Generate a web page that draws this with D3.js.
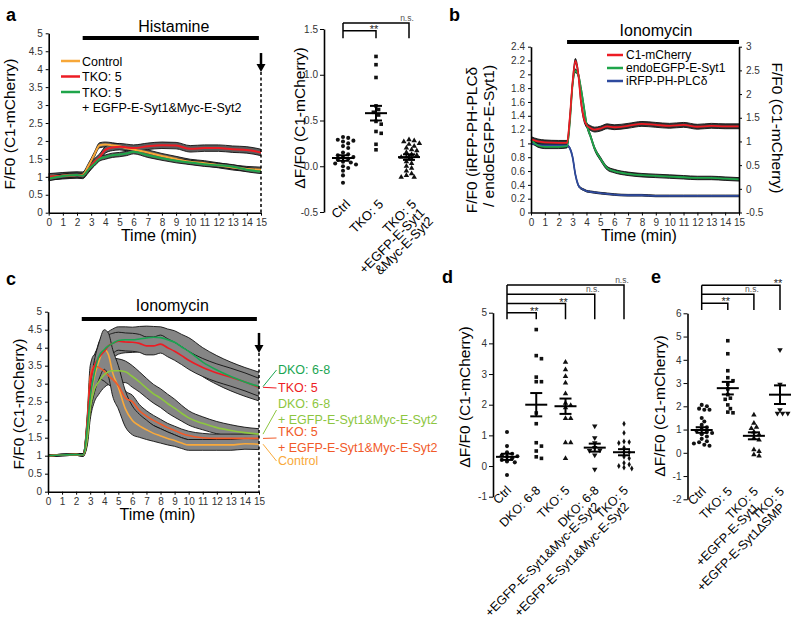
<!DOCTYPE html>
<html>
<head>
<meta charset="utf-8">
<script src="https://cdn.jsdelivr.net/npm/d3@7"></script>
<style>
body { margin: 0; background: #fff; }
svg text { font-family: "Liberation Sans", Arial, sans-serif; }
</style>
</head>
<body>
<div id="fig"></div>
<script>
var minutes = d3.range(0, 16);

// panel a, histamine time course
var timeA = [0,1,2,2.4,2.8,3.2,3.6,4,4.5,5,5.5,6,7,8,9,10,11,12,13,14,15];
var ctrlLineA = [1.0,1.03,1.05,1.06,1.3,1.6,1.88,1.9,1.88,1.85,1.8,1.76,1.68,1.58,1.5,1.42,1.38,1.32,1.26,1.22,1.2];
var tkoLineA = [1.0,1.03,1.05,1.04,1.2,1.4,1.55,1.75,1.82,1.84,1.82,1.8,1.85,1.88,1.87,1.78,1.8,1.8,1.77,1.75,1.68];
var rescueLineA = [0.95,1.02,1.05,1.03,1.2,1.35,1.5,1.55,1.6,1.62,1.65,1.7,1.6,1.52,1.45,1.4,1.35,1.32,1.28,1.2,1.15];
var semLineA = [0.07, 0.09, 0.06];
var seriesNamesA = ["Control", "TKO: 5", "TKO: 5"];

// panel a, scatter
var ctrlDotsA = [0.32,0.31,0.29,0.28,0.27,0.25,0.22,0.2,0.15,0.13,0.12,0.1,0.1,0.08,0.07,0.05,0.04,0.03,0.02,0.0,-0.02,-0.05,-0.1,-0.18];
var tkoDotsA = [1.2,1.11,0.97,0.66,0.62,0.59,0.56,0.49,0.46,0.38,0.36,0.24,0.18];
var rescueDotsA = [0.29,0.28,0.27,0.25,0.24,0.22,0.2,0.18,0.17,0.15,0.13,0.12,0.1,0.1,0.08,0.05,0.03,0.0,-0.02,-0.05,-0.08,-0.1,-0.12,-0.12];
var meanA = [0.09, 0.58, 0.1];
var semA = [0.03, 0.08, 0.03];

// panel b, ionomycin
var timeB = [0,0.5,1,2,2.6,2.8,3,3.2,3.4,3.6,3.8,4,4.3,4.6,5,5.5,6,7,8,9,10,11,12,13,14,15];
var c1LineB = [1.05,1.0,0.98,0.97,0.97,1.5,2.25,2.7,2.45,1.85,1.5,1.35,1.28,1.25,1.27,1.32,1.3,1.33,1.37,1.35,1.33,1.35,1.31,1.33,1.32,1.32];
var syt1LineB = [1.05,0.97,0.95,0.95,0.96,1.3,1.85,2.05,2.0,1.8,1.55,1.29,1.1,0.92,0.78,0.64,0.6,0.56,0.54,0.53,0.52,0.51,0.5,0.5,0.49,0.48];
var plcLineB = [1.0,0.98,0.97,0.97,0.97,0.93,0.8,0.55,0.4,0.35,0.33,0.31,0.3,0.29,0.28,0.27,0.26,0.25,0.25,0.24,0.24,0.24,0.24,0.24,0.24,0.24];
var semLineB = [0.035, 0.025, 0.012];
var seriesNamesB = ["C1-mCherry", "endoEGFP-E-Syt1", "iRFP-PH-PLC\u03b4"];

// panel c, ionomycin
var timeC = [0,1,2,2.5,2.8,3,3.3,3.6,4,4.3,4.6,5,5.5,6,6.5,7,7.5,8,8.5,9,9.5,10,11,12,13,14,15];
var dkoLineC = [1.0,1.02,1.03,1.02,1.8,2.6,3.3,3.75,3.95,4.05,4.12,4.2,4.22,4.22,4.24,4.27,4.29,4.28,4.22,4.15,4.02,3.9,3.6,3.38,3.2,3.05,2.92];
var tkoLineC = [1.0,1.02,1.03,1.02,1.9,3.0,3.5,3.72,3.9,4.05,4.12,4.18,4.16,4.15,4.12,4.05,4.05,4.1,4.0,3.9,3.78,3.65,3.45,3.3,3.18,3.05,2.9];
var dkoResLineC = [1.0,1.02,1.03,1.02,1.5,2.3,2.85,3.05,3.25,3.33,3.36,3.36,3.33,3.2,3.05,2.88,2.72,2.6,2.45,2.32,2.18,2.05,1.9,1.78,1.7,1.64,1.6];
var tkoResLineC = [1.0,1.02,1.03,1.02,2.0,3.2,3.5,3.45,3.35,3.22,3.12,2.95,2.6,2.5,2.25,2.1,1.98,1.88,1.78,1.7,1.62,1.56,1.5,1.48,1.48,1.48,1.48];
var ctrlLineC = [1.0,1.02,1.03,1.02,1.6,2.5,3.2,3.6,3.95,3.8,3.3,2.9,2.3,1.98,1.83,1.72,1.62,1.55,1.48,1.42,1.35,1.3,1.3,1.3,1.3,1.33,1.32];
var dkoSemC = [0.02,0.02,0.02,0.03,0.2,0.3,0.35,0.38,0.4,0.4,0.4,0.38,0.36,0.35,0.35,0.33,0.3,0.3,0.3,0.32,0.35,0.38,0.4,0.4,0.4,0.4,0.4];
var tkoSemC = [0.02,0.02,0.02,0.03,0.2,0.25,0.3,0.3,0.3,0.3,0.28,0.25,0.25,0.25,0.25,0.25,0.25,0.25,0.25,0.25,0.25,0.25,0.25,0.25,0.25,0.25,0.25];
var dkoResSemC = [0.02,0.02,0.02,0.03,0.2,0.3,0.35,0.35,0.35,0.35,0.35,0.33,0.3,0.3,0.28,0.27,0.26,0.26,0.26,0.25,0.22,0.2,0.18,0.17,0.16,0.15,0.15];
var tkoResSemC = [0.02,0.02,0.02,0.03,0.2,0.3,0.3,0.3,0.28,0.25,0.22,0.2,0.2,0.18,0.17,0.15,0.14,0.13,0.12,0.12,0.12,0.12,0.12,0.12,0.12,0.12,0.12];
var ctrlSemC = [0.02,0.02,0.02,0.03,0.2,0.35,0.45,0.5,0.55,0.6,0.65,0.6,0.5,0.4,0.32,0.27,0.22,0.2,0.18,0.16,0.15,0.15,0.15,0.15,0.15,0.15,0.15];

// panel d, scatter
var ctrlDotsD = [1.11,0.65,0.45,0.4,0.35,0.32,0.3,0.25,0.2,0.15,0.12,-0.29];
var dkoDotsD = [4.45,3.6,3.5,2.9,2.75,2.75,1.73,1.38,0.76,0.65,0.49,0.3,0.25];
var tkoDotsD = [3.39,3.14,2.92,2.71,2.36,2.05,1.98,1.9,1.55,1.55,0.76,0.76,0.25];
var dkoResDotsD = [1.3,0.92,0.76,0.6,0.52,0.5,0.36,-0.11];
var tkoResDotsD = [1.38,1.08,0.8,0.78,0.75,0.6,0.45,0.45,0.3,0.25,0.1,0.05,0.0,-0.05,-0.08];
var meanD = [0.3, 2.0, 1.95, 0.6, 0.45];
var semD = [0.1, 0.38, 0.25, 0.13, 0.1];

// panel e, scatter
var ctrlDotsE = [2.06,2.0,1.9,1.85,1.85,1.5,1.35,1.2,1.1,1.0,0.95,0.9,0.85,0.8,0.7,0.6,0.5,0.45,0.4,0.35,0.3];
var tkoDotsE = [4.82,4.26,3.53,3.23,3.1,2.95,2.75,2.5,2.35,2.3,2.06,1.9,1.75,1.72];
var syt1DotsE = [1.63,1.27,1.1,1.05,0.9,0.78,0.63,0.55,0.13,0.06,-0.08,-0.13];
var smpDotsE = [4.43,2.95,1.85,1.7,1.7,1.7];
var meanE = [0.98, 2.78, 0.73, 2.5];
var semE = [0.12, 0.27, 0.15, 0.4];

var svg = d3.select("#fig").append("svg")
  .attr("width", 800)
  .attr("height", 623);
svg.append("rect").attr("width", 800).attr("height", 623).attr("fill", "#fff");

var fmtNum = d => d3.format("~g")(d).replace("\u2212", "-");

function letter(x, y, t) {
  svg.append("text").attr("x", x).attr("y", y)
    .attr("font-size", 18).attr("font-weight", "bold").text(t);
}

function styleAxis(g, size) {
  g.select(".domain").attr("stroke-width", 1.6);
  g.selectAll(".tick line").attr("stroke-width", 1);
  g.selectAll("text").attr("font-size", size).attr("fill", "#333").attr("font-family", null);
}

function yTitle(x, y, t, size, rot) {
  svg.append("text")
    .attr("transform", `translate(${x},${y}) rotate(${rot || -90})`)
    .attr("text-anchor", "middle")
    .attr("font-size", size)
    .text(t);
}

function timeAxes(x, y, yTicks) {
  var gy = svg.append("g")
    .attr("transform", `translate(${x.range()[0]},0)`)
    .call(d3.axisLeft(y).tickValues(yTicks).tickSize(3).tickSizeOuter(0).tickPadding(3).tickFormat(fmtNum));
  styleAxis(gy, 10);
  var gx = svg.append("g")
    .attr("transform", `translate(0,${y.range()[0]})`)
    .call(d3.axisBottom(x).tickValues(minutes).tickSize(3).tickSizeOuter(0).tickPadding(3));
  styleAxis(gx, 10);
  svg.append("text")
    .attr("x", (x.range()[0] + x.range()[1]) / 2 + 4)
    .attr("y", y.range()[0] + 28)
    .attr("text-anchor", "middle")
    .attr("font-size", 16)
    .text("Time (min)");
}

function drawBand(x, y, t, v, e, fill) {
  var pts = t.map((d, i) => ({t: d, lo: v[i] - (Array.isArray(e) ? e[i] : e), hi: v[i] + (Array.isArray(e) ? e[i] : e)}));
  svg.append("path").datum(pts)
    .attr("d", d3.area().x(d => x(d.t)).y0(d => y(d.lo)).y1(d => y(d.hi)).curve(d3.curveMonotoneX))
    .attr("fill", fill);
  ["lo", "hi"].forEach(k => {
    svg.append("path").datum(pts)
      .attr("d", d3.line().x(d => x(d.t)).y(d => y(d[k])).curve(d3.curveMonotoneX))
      .attr("fill", "none").attr("stroke", "#111").attr("stroke-width", 0.9);
  });
}

function drawLine(x, y, t, v, color, w) {
  svg.append("path").datum(t.map((d, i) => [d, v[i]]))
    .attr("d", d3.line().x(d => x(d[0])).y(d => y(d[1])).curve(d3.curveMonotoneX))
    .attr("fill", "none").attr("stroke", color).attr("stroke-width", w);
}

function stimBar(x, yPix, t0, t1, label, labelY) {
  svg.append("line").attr("x1", x(t0)).attr("x2", x(t1)).attr("y1", yPix).attr("y2", yPix)
    .attr("stroke", "#000").attr("stroke-width", 4);
  svg.append("text").attr("x", (x(t0) + x(t1)) / 2 + 3).attr("y", labelY)
    .attr("text-anchor", "middle").attr("font-size", 16).text(label);
}

function washArrow(x, y, top, tip) {
  var xp = x(15);
  svg.append("line").attr("x1", xp).attr("x2", xp).attr("y1", y(tip)).attr("y2", y.range()[0])
    .attr("stroke", "#000").attr("stroke-width", 1.5).attr("stroke-dasharray", "3,2.5");
  svg.append("line").attr("x1", xp).attr("x2", xp).attr("y1", y(top)).attr("y2", y(tip) - 6)
    .attr("stroke", "#000").attr("stroke-width", 2.5);
  svg.append("path")
    .attr("d", `M${xp - 4.5},${y(tip) - 8} L${xp + 4.5},${y(tip) - 8} L${xp},${y(tip)} Z`)
    .attr("fill", "#000");
}

// ---------- panel a, time course ----------
letter(6, 21, "a");
var xA = d3.scaleLinear().domain([0, 15]).range([48.7, 261]);
var yA = d3.scaleLinear().domain([0, 5]).range([212.7, 33.3]);
var colorsA = ["#f7a738", "#ed1c24", "#1fa54a"];
var linesA = [ctrlLineA, tkoLineA, rescueLineA];
linesA.forEach((v, i) => drawBand(xA, yA, timeA, v, semLineA[i], "#5c5c5c"));
linesA.forEach((v, i) => drawLine(xA, yA, timeA, v, colorsA[i], 2));
timeAxes(xA, yA, d3.range(0, 5.01, 0.5));
yTitle(15, 124, "F/F0 (C1-mCherry)", 15.5);
stimBar(xA, 38, 2.4, 14.85, "Histamine", 32);
washArrow(xA, yA, 4.45, 3.92);

var legA = svg.append("g");
[[seriesNamesA[0]], [seriesNamesA[1]], [seriesNamesA[2], "+ EGFP-E-Syt1&Myc-E-Syt2"]].forEach((lines, i) => {
  var yy = 61 + i * 15.5;
  legA.append("line").attr("x1", 61).attr("x2", 80).attr("y1", yy).attr("y2", yy)
    .attr("stroke", colorsA[i]).attr("stroke-width", 2.5);
  lines.forEach((t, j) => {
    legA.append("text").attr("x", 82).attr("y", yy + 4.5 + j * 15).attr("font-size", 12.5).text(t);
  });
});

// ---------- scatter helper ----------
var shapes = {
  circle: d3.symbol().type(d3.symbolCircle).size(13),
  square: d3.symbol().type(d3.symbolSquare).size(13),
  triangle: d3.symbol().type(d3.symbolTriangle).size(13),
  down: d3.symbol().type(d3.symbolTriangle).size(13),
  diamond: d3.symbol().type(d3.symbolDiamond).size(10)
};

function swarm(vals, y, cx, gap) {
  var placed = [];
  vals.slice().sort((a, b) => b - a).forEach(v => {
    var py = y(v);
    for (var k = 0; k < 30; k++) {
      var off = (k % 2 ? 1 : -1) * Math.ceil(k / 2) * 2.6;
      var ok = placed.every(p => Math.hypot(p.x - (cx + off), p.y - py) >= gap);
      if (ok) { placed.push({x: cx + off, y: py}); break; }
    }
  });
  return placed;
}

function scatterPanel(cfg) {
  var y = cfg.y;
  var x = d3.scalePoint().domain(d3.range(cfg.groups.length)).range(cfg.catRange);
  var gy = svg.append("g").attr("transform", `translate(${cfg.axisX},0)`)
    .call(d3.axisLeft(y).tickValues(cfg.ticks).tickSize(4).tickSizeOuter(0).tickPadding(2).tickFormat(d => cfg.fmt(d).replace("\u2212", "-")));
  styleAxis(gy, 10);

  cfg.groups.forEach((vals, i) => {
    var pts = swarm(vals, y, x(i), 4.3);
    svg.append("g").selectAll("path").data(pts).enter().append("path")
      .attr("d", shapes[cfg.shapes[i]])
      .attr("transform", d => `translate(${d.x},${d.y})` + (cfg.shapes[i] === "down" ? " rotate(180)" : ""))
      .attr("fill", "#111");
    var m = cfg.means[i], s = cfg.sems[i], cx = x(i);
    var g = svg.append("g").attr("stroke", "#000").attr("stroke-width", 2);
    g.append("line").attr("x1", cx - 11).attr("x2", cx + 11).attr("y1", y(m)).attr("y2", y(m));
    g.append("line").attr("x1", cx).attr("x2", cx).attr("y1", y(m + s)).attr("y2", y(m - s));
    [m + s, m - s].forEach(v => g.append("line").attr("x1", cx - 6).attr("x2", cx + 6).attr("y1", y(v)).attr("y2", y(v)));

    // rotated category label, following lines step down (and back) from the first
    var lab = svg.append("text")
      .attr("transform", `translate(${cx + cfg.labDx},${cfg.labY}) rotate(-45)`)
      .attr("text-anchor", "end")
      .attr("font-size", cfg.labSize);
    cfg.labels[i].forEach((t, j) => {
      lab.append("tspan").attr("x", j * cfg.lineShift).attr("y", j * cfg.lineGap).text(t);
    });
  });

  // significance brackets
  var x0 = x(0);
  var gb = svg.append("g").attr("stroke", "#000").attr("stroke-width", 1.5).attr("fill", "none");
  var topLevel = cfg.bracketBottom - cfg.firstGap - (cfg.brackets.length - 1) * cfg.step;
  gb.append("line").attr("x1", x0).attr("x2", x0).attr("y1", topLevel).attr("y2", cfg.bracketBottom);
  cfg.brackets.forEach((b, k) => {
    var lv = cfg.bracketBottom - cfg.firstGap - k * cfg.step;
    var xr = x(b.to);
    gb.append("path").attr("d", `M${x0},${lv} H${xr} V${cfg.bracketBottom}`);
    var ns = b.label === "n.s.";
    svg.append("text").attr("x", xr - 2).attr("y", ns ? lv - 2 : lv + 2)
      .attr("text-anchor", "middle")
      .attr("font-size", ns ? 8.5 : 11)
      .attr("fill", ns ? "#555" : "#222")
      .text(b.label);
  });

  yTitle(cfg.titleX, cfg.titleY, "\u0394F/F0 (C1-mCherry)", 15.5);
}

// ---------- panel a, scatter ----------
scatterPanel({
  y: d3.scaleLinear().domain([-0.5, 1.5]).range([212, 29]),
  axisX: 324,
  ticks: [-0.5, 0, 0.5, 1.0, 1.5],
  fmt: d3.format(".1f"),
  catRange: [343, 409],
  groups: [ctrlDotsA, tkoDotsA, rescueDotsA],
  shapes: ["circle", "square", "triangle"],
  means: meanA, sems: semA,
  labels: [["Ctrl"], ["TKO: 5"], ["TKO: 5", "+EGFP-E-Syt1", "&Myc-E-Syt2"]],
  labDx: 8, labY: 205, labSize: 13, lineGap: 12, lineShift: 0,
  brackets: [{to: 1, label: "**"}, {to: 2, label: "n.s."}],
  bracketBottom: 38.3, firstGap: 7.5, step: 7.7,
  titleX: 305, titleY: 118
});

// ---------- panel b ----------
letter(449, 21, "b");
var xB = d3.scaleLinear().domain([0, 15]).range([531, 739]);
var yBL = d3.scaleLinear().domain([0, 2.4]).range([212.5, 46.7]);
var yBR = d3.scaleLinear().domain([-0.5, 3]).range([212.5, 46.7]);
var colorsB = ["#ed1c24", "#1fa54a", "#2e4a9e"];
drawBand(xB, yBR, timeB, c1LineB, semLineB[0] * 1.46, "#333");
drawBand(xB, yBL, timeB, syt1LineB, semLineB[1], "#333");
drawBand(xB, yBL, timeB, plcLineB, semLineB[2], "#333");
drawLine(xB, yBL, timeB, plcLineB, colorsB[2], 1.8);
drawLine(xB, yBL, timeB, syt1LineB, colorsB[1], 1.8);
drawLine(xB, yBR, timeB, c1LineB, colorsB[0], 1.8);
timeAxes(xB, yBL, d3.range(0, 2.41, 0.2).map(d => +d.toFixed(1)));
var gR = svg.append("g").attr("transform", "translate(739,0)")
  .call(d3.axisRight(yBR).tickValues(d3.range(-0.5, 3.01, 0.5)).tickSize(3).tickSizeOuter(0).tickPadding(4).tickFormat(fmtNum));
styleAxis(gR, 10);
stimBar(xB, 42, 2.6, 15, "Ionomycin", 36);
yTitle(477, 140, "F/F0 (iRFP-PH-PLC\u03b4", 15.5);
yTitle(494, 136, "/ endoEGFP-E-Syt1)", 15.5);
yTitle(772, 128, "F/F0 (C1-mCherry)", 15.5, 90);
seriesNamesB.forEach((t, i) => {
  var yy = 55 + i * 13;
  svg.append("line").attr("x1", 607).attr("x2", 623).attr("y1", yy).attr("y2", yy)
    .attr("stroke", colorsB[i]).attr("stroke-width", 2.5);
  svg.append("text").attr("x", 626).attr("y", yy + 4).attr("font-size", 12).text(t);
});

// ---------- panel c ----------
letter(6, 285, "c");
var xC = d3.scaleLinear().domain([0, 15]).range([48, 259]);
var yC = d3.scaleLinear().domain([0, 5]).range([491.7, 311.7]);
var linesC = [
  {v: dkoLineC, e: dkoSemC, c: "#1aa552", lab: ["DKO: 6-8"], ly: 374},
  {v: tkoLineC, e: tkoSemC, c: "#ed1c24", lab: ["TKO: 5"], ly: 392},
  {v: dkoResLineC, e: dkoResSemC, c: "#8dc63f", lab: ["DKO: 6-8", "+ EGFP-E-Syt1&Myc-E-Syt2"], ly: 408},
  {v: tkoResLineC, e: tkoResSemC, c: "#f15a29", lab: ["TKO: 5", "+ EGFP-E-Syt1&Myc-E-Syt2"], ly: 436},
  {v: ctrlLineC, e: ctrlSemC, c: "#f9a93a", lab: ["Control"], ly: 465}
];
linesC.forEach(s => drawBand(xC, yC, timeC, s.v, s.e, "#858585"));
linesC.slice().reverse().forEach(s => drawLine(xC, yC, timeC, s.v, s.c, 1.6));
timeAxes(xC, yC, d3.range(0, 5.01, 0.5));
yTitle(24, 404, "F/F0 (C1-mCherry)", 15.5);
stimBar(xC, 319, 2.4, 14.85, "Ionomycin", 311);
washArrow(xC, yC, 4.41, 3.85);
linesC.forEach(s => {
  var yEnd = yC(s.v[s.v.length - 1]);
  var yLab = s.ly - 4 + (s.lab.length > 1 ? 6 : 0);
  svg.append("line").attr("x1", xC(15) + 4).attr("x2", 276.5).attr("y1", yEnd).attr("y2", yLab)
    .attr("stroke", s.c).attr("stroke-width", 1);
  s.lab.forEach((t, j) => {
    svg.append("text").attr("x", 278).attr("y", s.ly + j * 15.5)
      .attr("font-size", 12.5).attr("fill", s.c).text(t);
  });
});

// ---------- panel d ----------
letter(442, 283, "d");
scatterPanel({
  y: d3.scaleLinear().domain([-1, 5]).range([496.7, 312.7]),
  axisX: 493,
  ticks: d3.range(-1, 5.01, 1),
  fmt: d3.format("d"),
  catRange: [507, 624],
  groups: [ctrlDotsD, dkoDotsD, tkoDotsD, dkoResDotsD, tkoResDotsD],
  shapes: ["circle", "square", "triangle", "down", "diamond"],
  means: meanD, sems: semD,
  labels: [["Ctrl"], ["DKO: 6-8"], ["TKO: 5"], ["DKO: 6-8", "+EGFP-E-Syt1&Myc-E-Syt2"], ["TKO: 5", "+EGFP-E-Syt1&Myc-E-Syt2"]],
  labDx: 5, labY: 491, labSize: 12.5, lineGap: 12, lineShift: -11,
  brackets: [{to: 1, label: "**"}, {to: 2, label: "**"}, {to: 3, label: "n.s."}, {to: 4, label: "n.s."}],
  bracketBottom: 319.3, firstGap: 6.6, step: 9.2,
  titleX: 470, titleY: 397
});

// ---------- panel e ----------
letter(651, 283, "e");
scatterPanel({
  y: d3.scaleLinear().domain([-2, 6]).range([499.3, 313.3]),
  axisX: 687.5,
  ticks: d3.range(-2, 6.01, 1),
  fmt: d3.format("d"),
  catRange: [701.7, 780],
  groups: [ctrlDotsE, tkoDotsE, syt1DotsE, smpDotsE],
  shapes: ["circle", "square", "triangle", "down"],
  means: meanE, sems: semE,
  labels: [["Ctrl"], ["TKO: 5"], ["TKO: 5", "+EGFP-E-Syt1"], ["TKO: 5", "+EGFP-E-Syt1\u0394SMP"]],
  labDx: 5, labY: 492, labSize: 12.5, lineGap: 12, lineShift: -11,
  brackets: [{to: 1, label: "**"}, {to: 2, label: "n.s."}, {to: 3, label: "**"}],
  bracketBottom: 310, firstGap: 6.7, step: 9,
  titleX: 665, titleY: 406
});
</script>
</body>
</html>
